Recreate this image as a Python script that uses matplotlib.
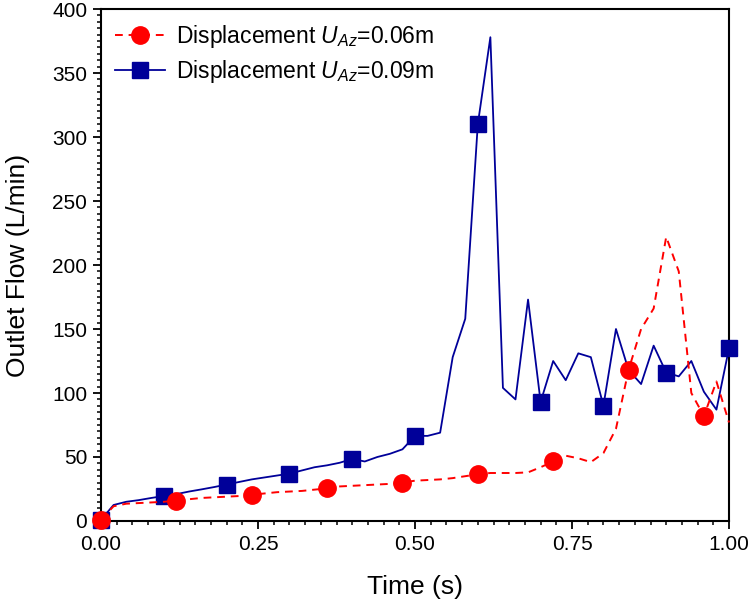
import matplotlib
matplotlib.use('Agg')
import matplotlib.pyplot as plt
import numpy as np
from matplotlib.ticker import MultipleLocator

plt.rcParams['font.family'] = ['Liberation Sans', 'DejaVu Sans']
plt.rcParams['mathtext.fontset'] = 'custom'
plt.rcParams['mathtext.rm'] = 'Liberation Sans'
plt.rcParams['mathtext.it'] = 'Liberation Sans:italic'

# tiempo (s), paso 0.02
tiempo = np.round(np.arange(0, 1.0001, 0.02), 2)

# U_Az = 0.06 m
flujo_006 = [1, 11.5, 13.5, 14, 14.5, 15, 16, 17, 18, 18.5,
             19, 19.5, 20.5, 21.5, 22.5, 23, 23.5, 24.5, 25.5, 27,
             27.5, 28, 28.5, 29, 30, 31.5, 32, 32.5, 33.5, 35,
             36.5, 37.5, 37.5, 37.5, 38, 42, 46.5, 51, 49, 46,
             53, 72, 118, 150, 166, 222, 195, 100, 82, 109, 77]

# U_Az = 0.09 m
flujo_009 = [1, 12.5, 15, 16.3, 18, 19.5, 21, 23, 24.7, 26.5,
             28.5, 30.5, 32.5, 34, 35.5, 37, 39.5, 42, 43.5, 45.5,
             48.5, 46.5, 50, 52.5, 56, 66.5, 66.5, 69, 128, 158,
             310, 378, 104, 95, 173, 93, 125, 110, 131, 128,
             90, 150, 118, 107, 137, 116, 113, 125, 101, 87, 135]

fig = plt.figure(figsize=(7.5, 6.03), dpi=100)
ax = fig.add_axes([0.1347, 0.136, 0.8373, 0.849])

ax.plot(tiempo, flujo_009, color='#000099', lw=1.3, marker='s', markersize=11,
        markevery=5, clip_on=False, zorder=3,
        label=r'Displacement $U_{Az}$=0.09m')
ax.plot(tiempo, flujo_006, color='#FF0000', lw=1.4, ls='--', dashes=(4, 3),
        marker='o', markersize=12.5, markevery=6, clip_on=False, zorder=4,
        label=r'Displacement $U_{Az}$=0.06m')

ax.set_xlim(0, 1.0)
ax.set_ylim(0, 400)
ax.xaxis.set_major_locator(MultipleLocator(0.25))
ax.xaxis.set_minor_locator(MultipleLocator(0.025))
ax.yaxis.set_major_locator(MultipleLocator(50))
ax.yaxis.set_minor_locator(MultipleLocator(5))
ax.xaxis.set_major_formatter(plt.FuncFormatter(lambda v, p: f'{v:.2f}'))
ax.tick_params(which='major', direction='out', length=6, width=1.3,
               labelsize=15, pad=4)
ax.tick_params(which='minor', direction='out', length=3, width=1.1)
for s in ax.spines.values():
    s.set_linewidth(1.5)

ax.set_xlabel('Time (s)', fontsize=19, labelpad=15)
ax.set_ylabel('Outlet Flow (L/min)', fontsize=19, labelpad=16)

h, l = ax.get_legend_handles_labels()
ax.legend(h[::-1], l[::-1], loc='upper left', frameon=False, fontsize=16.5,
          handlelength=2.2, borderaxespad=0.2, labelspacing=0.35,
          handletextpad=0.45)

plt.savefig('out.png', dpi=100)
